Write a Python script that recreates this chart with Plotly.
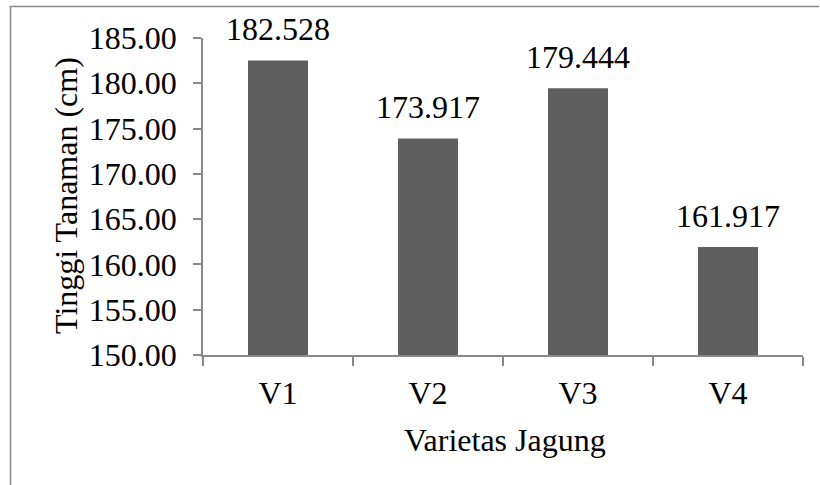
import plotly.graph_objects as go

categories = ["V1", "V2", "V3", "V4"]
values = [182.528, 173.917, 179.444, 161.917]
labels = ["182.528", "173.917", "179.444", "161.917"]
y_ticks = [150, 155, 160, 165, 170, 175, 180, 185]
y_tick_text = ["150.00", "155.00", "160.00", "165.00", "170.00", "175.00", "180.00", "185.00"]

W, H = 820, 485
L, R, T, B = 203, 17, 38, 130
pw, ph = W - L - R, H - T - B

def px_x(x):
    return (x - L) / pw

def px_y(y):
    return (H - B - y) / ph

FONT = "Liberation Serif"
FS = 32
AX = "#898989"

fig = go.Figure()
fig.add_trace(go.Bar(
    x=categories, y=values, width=0.4,
    marker=dict(color="#5f5f5f", line=dict(width=0)),
    hoverinfo="skip",
))

for c, v, t in zip(categories, values, labels):
    fig.add_annotation(x=c, y=v, text=t, showarrow=False, yanchor="middle",
                       yshift=31, font=dict(family=FONT, size=FS, color="black"))

fig.add_annotation(xref="paper", yref="paper", x=px_x(505), y=px_y(440),
                   text="Varietas Jagung", showarrow=False, xanchor="center", yanchor="middle",
                   font=dict(family=FONT, size=FS, color="black"))
fig.add_annotation(xref="paper", yref="paper", x=px_x(66), y=px_y(196),
                   text="Tinggi Tanaman (cm)", showarrow=False, textangle=-90,
                   xanchor="center", yanchor="middle",
                   font=dict(family=FONT, size=FS, color="black"))

# outer chart border (left and top edges visible)
fig.add_shape(type="line", xref="paper", yref="paper",
              x0=px_x(10.5), x1=px_x(10.5), y0=px_y(6), y1=px_y(500),
              line=dict(color="#888888", width=1.5))
fig.add_shape(type="line", xref="paper", yref="paper",
              x0=px_x(10), x1=px_x(819), y0=px_y(6.5), y1=px_y(6.5),
              line=dict(color="#888888", width=1.5))

fig.update_layout(
    width=W, height=H,
    margin=dict(l=L, r=R, t=T, b=B, pad=0),
    paper_bgcolor="white", plot_bgcolor="white",
    showlegend=False,
    font=dict(family=FONT, size=FS, color="black"),
    xaxis=dict(type="category", range=[-0.5, 3.5], showline=True, linecolor=AX, linewidth=1.5,
               ticks="outside", tickson="boundaries", ticklen=9, tickcolor=AX, tickwidth=1.5,
               showgrid=False, zeroline=False, ticklabelstandoff=9,
               tickfont=dict(family=FONT, size=FS, color="black")),
    yaxis=dict(range=[150, 185], tickvals=y_ticks, ticktext=y_tick_text,
               showline=True, linecolor=AX, linewidth=1.5,
               ticks="outside", ticklen=8, tickcolor=AX, tickwidth=1.5,
               showgrid=False, zeroline=False, ticklabelstandoff=10,
               tickfont=dict(family=FONT, size=FS, color="black")),
)

fig.write_html("out.html", config={"displayModeBar": False},
               post_script="document.body.style.margin='0';document.body.style.overflow='hidden';")
